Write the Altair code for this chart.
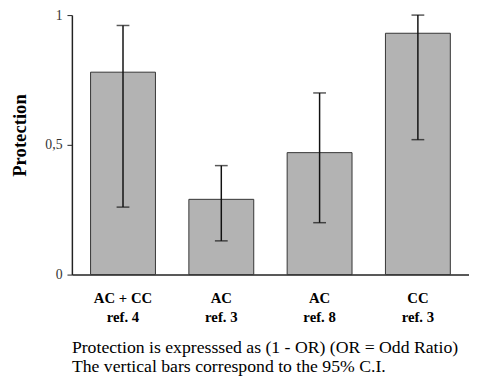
import altair as alt
import pandas as pd

categories = ["AC + CC\nref. 4", "AC\nref. 3", "AC\nref. 8", "CC\nref. 3"]
protection = [0.78, 0.29, 0.47, 0.93]
ci_lower = [0.26, 0.13, 0.20, 0.52]
ci_upper = [0.96, 0.42, 0.70, 1.00]
y_ticks = [0, 0.5, 1]
footer = [
    "Protection is expresssed as (1 - OR) (OR = Odd Ratio)",
    "The vertical bars correspond to the 95% C.I.",
]

df = pd.DataFrame({
    "cat": categories,
    "p": protection,
    "lo": ci_lower,
    "hi": ci_upper,
})

FONT = "Liberation Serif, DejaVu Serif, serif"

x = alt.X(
    "cat:N",
    sort=categories,
    scale=alt.Scale(paddingInner=0.34, paddingOuter=0.19),
    axis=alt.Axis(
        title=None,
        labelAngle=0,
        labelExpr="split(datum.label, '\\n')",
        labelFont=FONT,
        labelFontSize=15,
        labelFontWeight="bold",
        labelColor="black",
        labelLineHeight=20,
        labelPadding=16,
        ticks=False,
        domainColor="#222",
        domainWidth=1.5,
    ),
)

y_axis = alt.Axis(
    title="Protection",
    values=y_ticks,
    labelExpr="replace(format(datum.value, '~g'), '.', ',')",
    labelFont=FONT,
    labelFontSize=14,
    labelColor="#333",
    labelPadding=5,
    tickSize=5,
    tickColor="#222",
    domainColor="#222",
    domainWidth=1.5,
    grid=False,
    titleFont=FONT,
    titleFontSize=19,
    titleFontWeight="bold",
    titleColor="black",
    titleAngle=270,
    titleBaseline="alphabetic",
    titleX=-47,
    titleY=122,
)

y_scale = alt.Scale(domain=[0, 1], nice=False)

bars = alt.Chart(df).mark_bar(
    color="#b3b3b3", stroke="#333333", strokeWidth=1
).encode(
    x=x,
    y=alt.Y("p:Q", scale=y_scale, axis=y_axis),
)

rules = alt.Chart(df).mark_rule(color="#111", strokeWidth=1.5).encode(
    x=alt.X("cat:N", sort=categories),
    y="lo:Q",
    y2="hi:Q",
)

caps_lo = alt.Chart(df).mark_tick(color="#111", size=13, thickness=1.5).encode(
    x=alt.X("cat:N", sort=categories),
    y="lo:Q",
)
caps_hi = alt.Chart(df).mark_tick(color="#111", size=13, thickness=1.5).encode(
    x=alt.X("cat:N", sort=categories),
    y="hi:Q",
)

chart = alt.layer(bars, rules, caps_lo, caps_hi).properties(
    width=404,
    height=264,
    padding={"left": 65, "top": 4, "right": 0, "bottom": 103},
    autosize=alt.AutoSizeParams(type="none"),
    title=alt.Title(
        text=footer,
        orient="bottom",
        anchor="start",
        frame="group",
        font=FONT,
        fontSize=18,
        fontWeight="normal",
        color="black",
        lineHeight=19,
        offset=15,
        baseline="top",
    ),
).configure(font=FONT).configure_view(stroke=None)

chart.save("out.html", embed_options={"renderer": "svg", "actions": False})
